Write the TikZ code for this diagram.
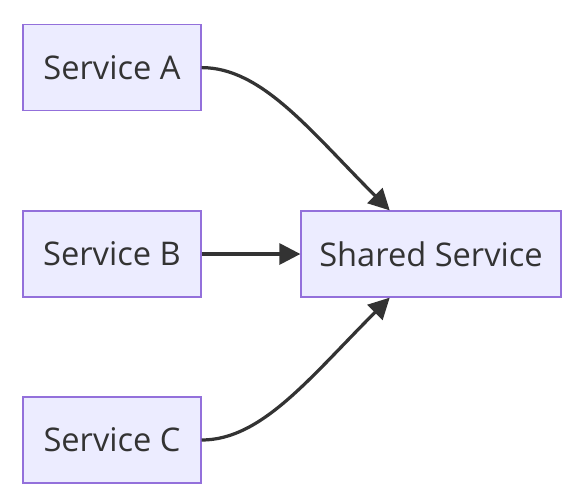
\documentclass[tikz,border=0pt]{standalone}
\usepackage{fontspec}
\setmainfont{Open Sans}
\usepackage{xcolor}
\usetikzlibrary{positioning,calc,arrows.meta}
\definecolor{svc}{HTML}{ECECFF}
\definecolor{edge}{HTML}{9370DB}
\definecolor{ink}{HTML}{333333}
\tikzset{
  svcbox/.style={draw=edge, fill=svc, line width=0.9pt, minimum height=2.15cm, inner sep=0pt, text=ink, font=\fontsize{23.2}{28}\selectfont},
  link/.style={draw=ink, line width=2.3pt, -{Triangle[length=15pt, width=15pt]}}}
\begin{document}
\begin{tikzpicture}
\useasboundingbox (0,0) rectangle (14.5,-12.55);
\node[svcbox, minimum width=4.45cm] (A) at (2.8,-1.69) {Service A};
\node[svcbox, minimum width=4.45cm] (B) at (2.8,-6.35) {Service B};
\node[svcbox, minimum width=4.45cm] (C) at (2.8,-11.0) {Service C};
\node[svcbox, minimum width=6.5cm] (S) at (10.775,-6.35) {Shared Service};
\coordinate (Sn) at ($(S.north west)!0.342!(S.north east)$);
\coordinate (Ss) at ($(S.south west)!0.342!(S.south east)$);
\draw[link] (A.east) .. controls +(1.5,0) and ($(Sn)+(-2.0,2.0)$) .. (Sn);
\draw[link] (B) -- (S);
\draw[link] (C.east) .. controls +(1.5,0) and ($(Ss)+(-2.0,-2.0)$) .. (Ss);
\end{tikzpicture}
\end{document}
